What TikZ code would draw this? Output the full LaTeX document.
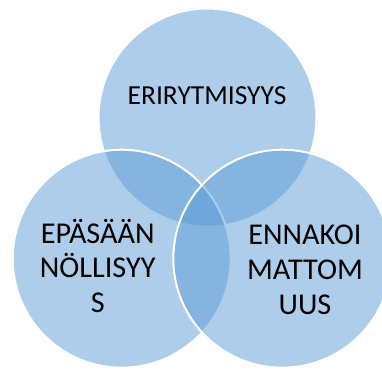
\documentclass[tikz,border=0pt]{standalone}
\usepackage{fontspec}
\setmainfont{Carlito}
\usepackage{tikz}
\usetikzlibrary{calc,positioning}
\definecolor{vennblue}{RGB}{91,155,213}

\begin{document}
\begin{tikzpicture}[
	set/.style={circle,minimum size=5.706cm,inner sep=0pt,fill=vennblue,fill opacity=0.5,draw=white,draw opacity=1,line width=1.5pt},
	lbl/.style={align=center,inner sep=0pt,text=black}]
		\useasboundingbox (0,0) rectangle (10,9.712);
		% the three sets, drawn top, left, right
		\node[set] (top) at (5.432,6.636) {};
		\node[set] (left) at (3.186,2.940) {};
		\node[set] (right) at (7.390,2.940) {};
		% labels
		\node[lbl,font=\fontsize{20.5}{24}\selectfont] (ttop) at (5.420,7.207) {ERIRYTMISYYS};
		\node[lbl,font=\fontsize{22.5}{25.8}\selectfont] (tleft) at (2.558,2.75) {EPÄSÄÄN\\NÖLLISYY\\S};
		\node[lbl,font=\fontsize{22.5}{25.8}\selectfont] (tright) at (7.984,2.646) {ENNAKOI\\MATTOM\\UUS};
	\end{tikzpicture}
\end{document}
